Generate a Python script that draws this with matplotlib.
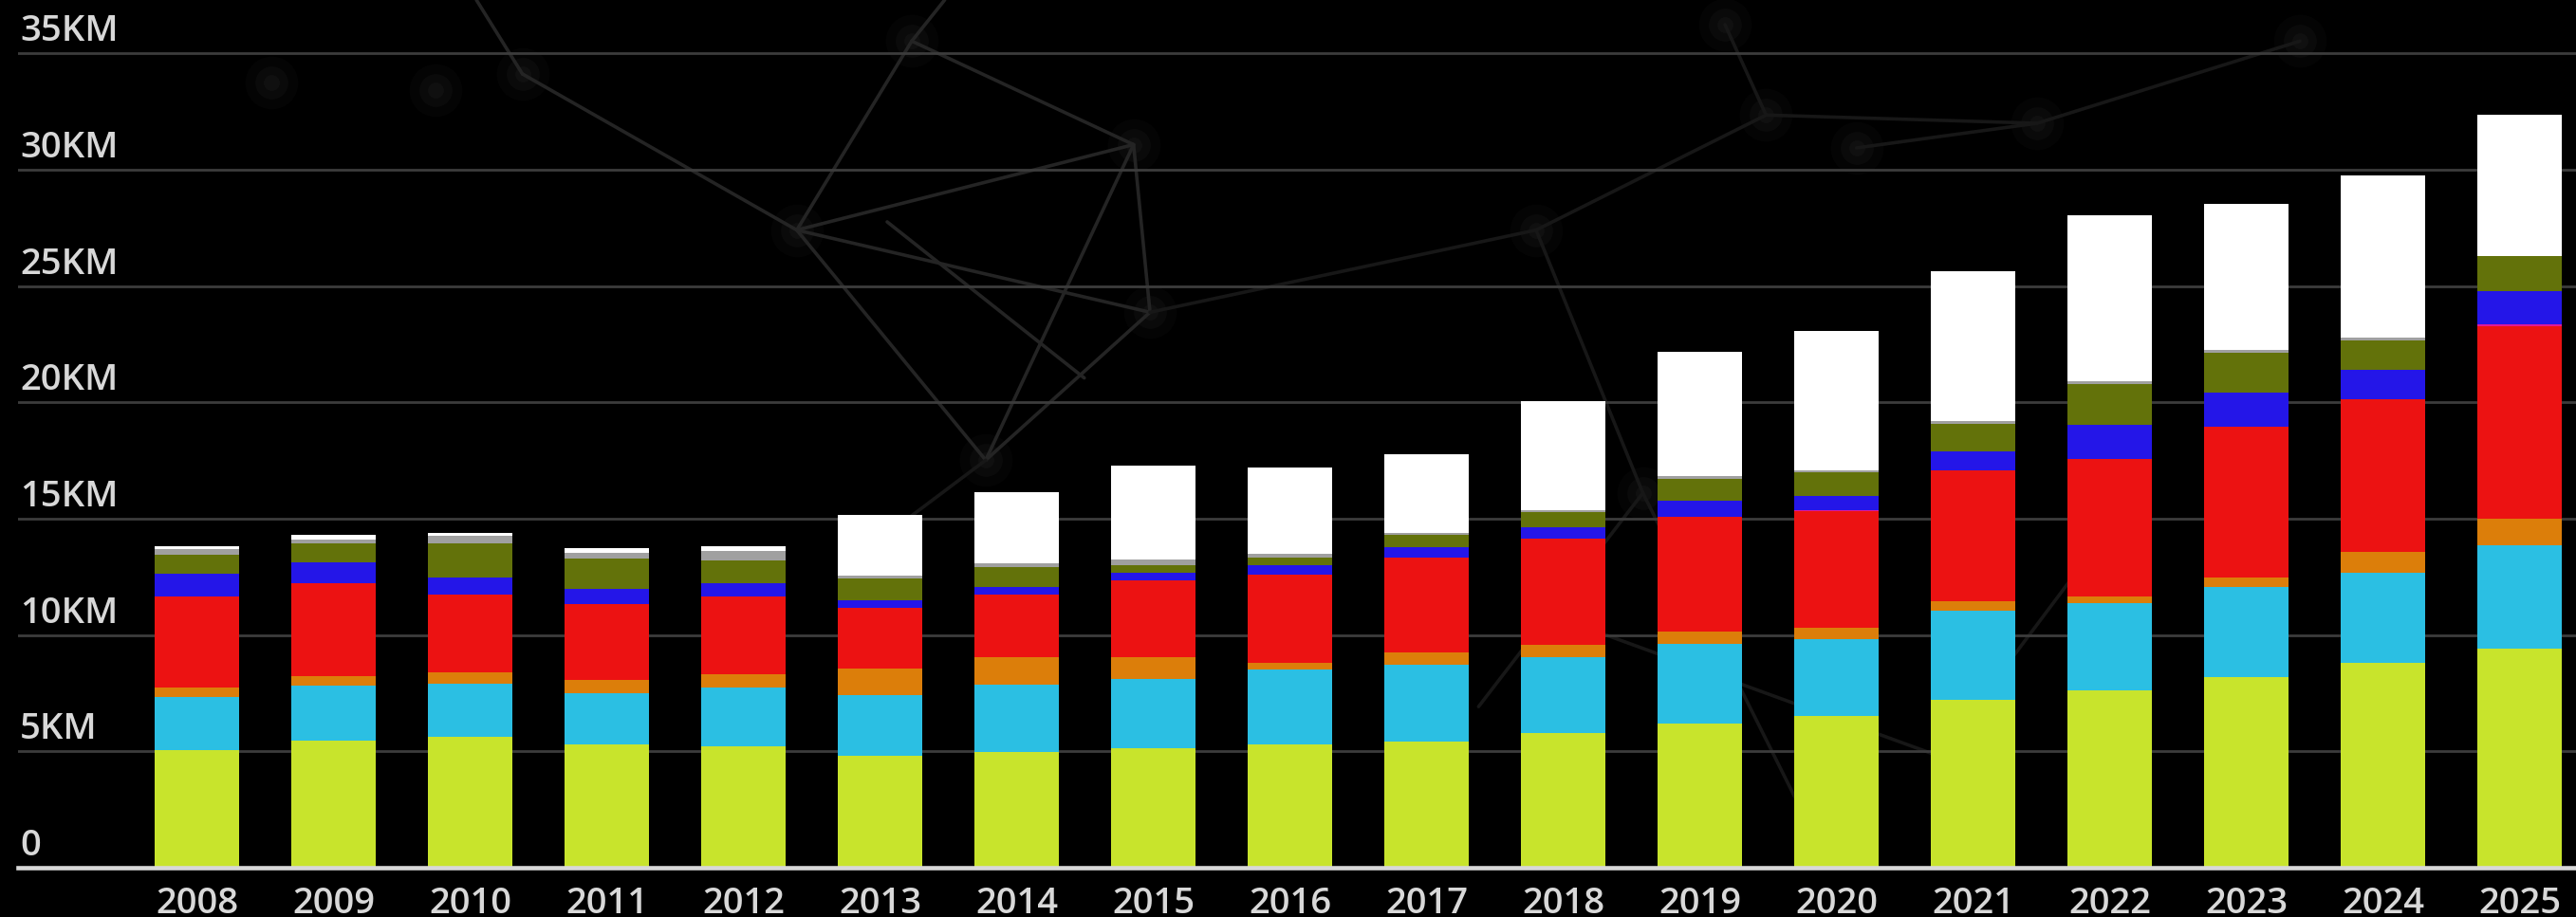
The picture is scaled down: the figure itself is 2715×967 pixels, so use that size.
import matplotlib
matplotlib.use("Agg")
import matplotlib.pyplot as plt
import numpy as np

# ---------------- data (KM) ----------------
years = ["2008", "2009", "2010", "2011", "2012", "2013", "2014", "2015", "2016",
         "2017", "2018", "2019", "2020", "2021", "2022", "2023", "2024", "2025"]
yellow = [5.06, 5.47, 5.63, 5.31, 5.22, 4.81, 4.98, 5.13, 5.31, 5.40, 5.79, 6.20, 6.52, 7.20, 7.60, 8.19, 8.82, 9.41]
cyan = [2.28, 2.36, 2.28, 2.19, 2.53, 2.62, 2.87, 2.96, 3.19, 3.34, 3.27, 3.43, 3.29, 3.83, 3.75, 3.88, 3.84, 4.46]
orange = [0.41, 0.41, 0.49, 0.57, 0.57, 1.13, 1.21, 0.97, 0.32, 0.50, 0.50, 0.50, 0.50, 0.41, 0.31, 0.40, 0.90, 1.13]
red = [3.91, 3.99, 3.34, 3.26, 3.34, 2.62, 2.69, 3.28, 3.76, 4.08, 4.56, 4.96, 5.00, 5.64, 5.91, 6.46, 6.58, 8.26]
magenta = [0, 0, 0, 0, 0, 0, 0, 0, 0, 0, 0, 0, 0.05, 0, 0, 0, 0, 0.08]
blue = [0.97, 0.89, 0.73, 0.65, 0.57, 0.33, 0.33, 0.33, 0.41, 0.47, 0.50, 0.68, 0.63, 0.81, 1.45, 1.48, 1.27, 1.45]
olive = [0.82, 0.81, 1.46, 1.30, 0.97, 0.90, 0.82, 0.32, 0.33, 0.50, 0.65, 0.95, 1.00, 1.17, 1.76, 1.72, 1.26, 1.49]
gray = [0.24, 0.17, 0.33, 0.25, 0.41, 0.15, 0.17, 0.25, 0.15, 0.09, 0.09, 0.09, 0.09, 0.14, 0.13, 0.13, 0.09, 0.02]
white = [0.11, 0.20, 0.12, 0.20, 0.20, 2.59, 3.06, 4.03, 3.72, 3.39, 4.68, 5.34, 5.97, 6.45, 7.11, 6.25, 6.97, 6.07]

series = [yellow, cyan, orange, red, magenta, blue, olive, gray, white]
colors = ["#C8E42C", "#2BBFE3", "#DC7E0A", "#EC1212", "#E0189A",
          "#2416E8", "#63720A", "#A0A0A0", "#FFFFFF"]

y_ticks = [0, 5, 10, 15, 20, 25, 30, 35]
y_labels = ["0", "5KM", "10KM", "15KM", "20KM", "25KM", "30KM", "35KM"]

# ---------------- figure ----------------
W, H = 2715, 967
fig = plt.figure(figsize=(W / 100, H / 100), dpi=100, facecolor="black")

# faint decorative network in the background
bg = fig.add_axes([0, 0, 1, 1], zorder=-5)
bg.set_facecolor("black")
bg.set_xlim(0, 1568)
bg.set_ylim(558, 0)
bg.axis("off")
edges_upper = [((290, 0), (318, 45)), ((318, 45), (485, 140)), ((555, 25), (485, 140)),
               ((555, 25), (575, 0)), ((485, 140), (690, 88)), ((690, 88), (700, 190)),
               ((485, 140), (700, 190)), ((700, 190), (600, 280)), ((485, 140), (600, 280)),
               ((540, 135), (660, 230)), ((690, 88), (600, 280)), ((555, 25), (690, 88))]
edges_faint = [((700, 190), (935, 140)), ((935, 140), (1075, 70)), ((1075, 70), (1240, 75)),
               ((1050, 15), (1075, 70)), ((1130, 90), (1240, 75)), ((1240, 75), (1400, 25)),
               ((600, 280), (520, 340)), ((935, 140), (1000, 300)), ((900, 430), (1000, 300)),
               ((1000, 300), (1100, 500)), ((960, 380), (1180, 460)), ((1180, 460), (1300, 300))]
for (x0, y0), (x1, y1) in edges_upper:
    bg.plot([x0, x1], [y0, y1], color="#242424", lw=2.6, solid_capstyle="round")
for (x0, y0), (x1, y1) in edges_faint:
    bg.plot([x0, x1], [y0, y1], color="#171717", lw=2.6, solid_capstyle="round")
nodes = [(318, 45), (555, 25), (485, 140), (690, 88), (700, 190), (600, 280),
         (935, 140), (1075, 70), (1130, 90), (1050, 15), (1240, 75), (1400, 25),
         (165, 50), (265, 55), (1000, 300)]
for (x, y) in nodes:
    for r, a in [(40, 0.035), (25, 0.05), (12, 0.06)]:
        bg.scatter([x], [y], s=r * r, color="#808080", alpha=a, lw=0)

# main axes
left = 19 / W
bottom = 1 - 915 / H
ax = fig.add_axes([left, bottom, 1 - left, 915 / H], zorder=1)
ax.set_facecolor("none")
px_per_km = 24.54
x0_px, step_px = 207.5, 144.0
ax.set_xlim((19 - x0_px) / step_px, (W - x0_px) / step_px)
ax.set_ylim(0, 915 / px_per_km)
for s in ax.spines.values():
    s.set_visible(False)
ax.set_xticks([])
ax.set_yticks([])

# gridlines
for v in y_ticks[1:]:
    ax.axhline(v, color="#3c3c3c", lw=2.0, zorder=0)

x = np.arange(len(years))
bottoms = np.zeros(len(years))
for vals, c in zip(series, colors):
    vals = np.array(vals)
    ax.bar(x, vals, width=0.62, bottom=bottoms, color=c, edgecolor="none", zorder=2)
    bottoms += vals

# baseline
ax.axhline(0, color="#d8d8d8", lw=3.3, zorder=3, clip_on=False)

font = ["Open Sans", "DejaVu Sans"]
txt_color = "#d8d8d8"
for v, lab in zip(y_ticks, y_labels):
    ax.text(0.0008, v + 13 / px_per_km, lab, transform=ax.get_yaxis_transform(),
            ha="left", va="baseline", fontsize=27.5, color=txt_color, family=font,
            fontweight="semibold")
for xi, lab in zip(x, years):
    ax.text(xi, -48 / px_per_km, lab, ha="center", va="baseline", fontsize=27.5,
            color=txt_color, family=font, fontweight="semibold", clip_on=False)

fig.savefig("out.png", dpi=100, facecolor="black")
